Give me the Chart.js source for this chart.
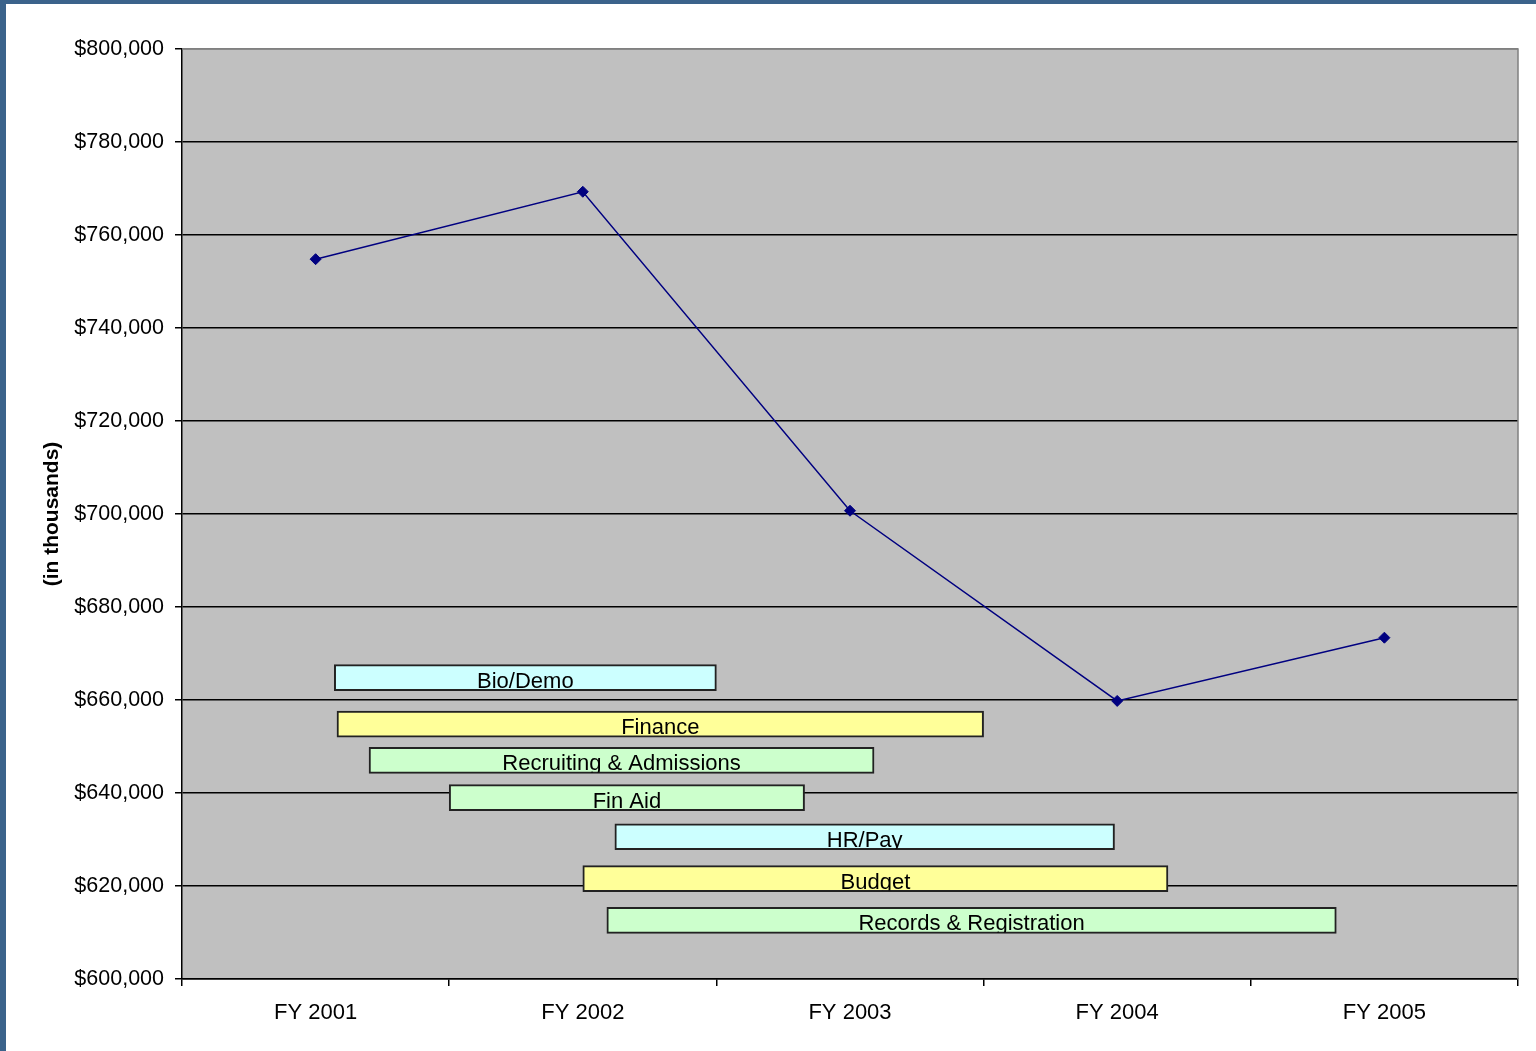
<!DOCTYPE html>
<html>
<head>
<meta charset="utf-8">
<script src="https://cdn.jsdelivr.net/npm/chart.js@4/dist/chart.umd.min.js"></script>
<style>
  html, body { margin: 0; padding: 0; background: #3B638B; overflow: hidden; }
  #wrap { position: absolute; left: 6px; top: 4px; width: 1530px; height: 1047px; background: #ffffff; }
  canvas { display: block; }
</style>
</head>
<body>
<div id="wrap"><canvas id="chart" width="1530" height="1047"></canvas></div>
<script>
// Fiscal years and total spending (in thousands of dollars)
const fiscalYears = ['FY 2001', 'FY 2002', 'FY 2003', 'FY 2004', 'FY 2005'];
const spending = [754800, 769300, 700700, 659800, 673400];

// Project timeline bars: start / end in fiscal-year units, vertical lane on the dollar axis
const taskNames = ['Bio/Demo', 'Finance', 'Recruiting & Admissions', 'Fin Aid', 'HR/Pay', 'Budget', 'Records & Registration'];
const taskStart = [2001.07, 2001.08, 2001.20, 2001.50, 2002.12, 2002.00, 2002.09];
const taskEnd   = [2002.50, 2003.50, 2003.09, 2002.83, 2003.99, 2004.19, 2004.82];
const taskLevels = [664800, 654800, 647000, 639000, 630600, 621600, 612600];
const taskColors = ['#CCFFFF', '#FFFF99', '#CCFFCC', '#CCFFCC', '#CCFFFF', '#FFFF99', '#CCFFCC'];

// Axis settings
const yMin = 600000, yMax = 800000, yStep = 20000;

const FONT = 'Liberation Sans, Arial, sans-serif';

const plotBackground = {
  id: 'plotBackground',
  beforeDraw(chart) {
    const { ctx, chartArea: a } = chart;
    ctx.save();
    ctx.fillStyle = '#C0C0C0';
    ctx.fillRect(a.left, a.top, a.right - a.left, a.bottom - a.top);
    ctx.restore();
  },
  beforeDatasetsDraw(chart) {
    const { ctx, chartArea: a } = chart;
    ctx.save();
    ctx.strokeStyle = '#808080';
    ctx.lineWidth = 1.5;
    ctx.beginPath();
    ctx.moveTo(a.left, a.top);
    ctx.lineTo(a.right, a.top);
    ctx.lineTo(a.right, a.bottom);
    ctx.stroke();
    ctx.restore();
  }
};

const barLabels = {
  id: 'barLabels',
  afterDatasetsDraw(chart) {
    const { ctx } = chart;
    const meta = chart.getDatasetMeta(1);
    ctx.save();
    ctx.font = '22px ' + FONT;
    ctx.fillStyle = '#000000';
    ctx.textAlign = 'center';
    ctx.textBaseline = 'alphabetic';
    meta.data.forEach((bar, i) => {
      const left = Math.min(bar.x, bar.base), right = Math.max(bar.x, bar.base);
      const top = bar.y - bar.height / 2, bottom = bar.y + bar.height / 2;
      ctx.save();
      ctx.beginPath();
      ctx.rect(left, top, right - left, bottom - top - 1);
      ctx.clip();
      ctx.fillText(taskNames[i], (left + right) / 2, bottom - 3);
      ctx.restore();
    });
    ctx.restore();
  }
};

new Chart(document.getElementById('chart'), {
  type: 'line',
  data: {
    labels: fiscalYears,
    datasets: [
      {
        type: 'line',
        label: 'Spending',
        data: spending,
        xAxisID: 'x',
        yAxisID: 'y',
        borderColor: '#000080',
        backgroundColor: '#000080',
        borderWidth: 1.5,
        pointStyle: 'rectRot',
        pointRadius: 5.5,
        pointBorderWidth: 1,
        pointBackgroundColor: '#000080',
        pointBorderColor: '#000080',
        tension: 0,
        fill: false,
        order: 1
      },
      {
        type: 'bar',
        label: 'Projects',
        indexAxis: 'y',
        data: taskNames.map((n, i) => ({ x: [taskStart[i], taskEnd[i]], y: taskLevels[i] })),
        xAxisID: 'timeline',
        yAxisID: 'y',
        backgroundColor: taskColors,
        borderColor: '#222222',
        borderWidth: 2,
        borderSkipped: false,
        barThickness: 26,
        grouped: false,
        order: 2
      }
    ]
  },
  options: {
    responsive: false,
    animation: false,
    events: [],
    layout: { padding: { left: 0, top: 45, right: 18, bottom: 12 } },
    plugins: {
      legend: { display: false },
      tooltip: { enabled: false },
      title: { display: false }
    },
    scales: {
      x: {
        type: 'category',
        axis: 'x',
        position: 'bottom',
        offset: true,
        afterFit(scale) { scale.height = 60; },
        grid: {
          display: true,
          offset: true,
          drawOnChartArea: false,
          drawTicks: true,
          tickLength: 7,
          color: '#000000',
          lineWidth: 1.5
        },
        border: { display: true, color: '#000000', width: 1.5 },
        ticks: {
          color: '#000000',
          font: { family: FONT, size: 22 },
          padding: 14,
          maxRotation: 0,
          autoSkip: false
        }
      },
      timeline: {
        type: 'linear',
        axis: 'x',
        position: 'bottom',
        display: false,
        min: 2000.5,
        max: 2005.5,
        offset: false
      },
      y: {
        type: 'linear',
        axis: 'y',
        position: 'left',
        min: yMin,
        max: yMax,
        offset: false,
        afterFit(scale) { scale.width = 176; },
        grid: {
          offset: false,
          drawTicks: true,
          tickLength: 7,
          color: (c) => (c.tick && c.tick.value === yMax ? '#808080' : '#000000'),
          tickColor: '#000000',
          lineWidth: 1.5
        },
        border: { display: true, color: '#000000', width: 1.5 },
        ticks: {
          stepSize: yStep,
          color: '#000000',
          font: { family: FONT, size: 21.5 },
          padding: 11,
          callback: (v) => '$' + Number(v).toLocaleString('en-US')
        },
        title: {
          display: true,
          text: '(in thousands)',
          color: '#000000',
          font: { family: FONT, size: 21, weight: 'bold' },
          padding: { top: 34, bottom: 0 }
        }
      }
    }
  },
  plugins: [plotBackground, barLabels]
});
</script>
</body>
</html>
